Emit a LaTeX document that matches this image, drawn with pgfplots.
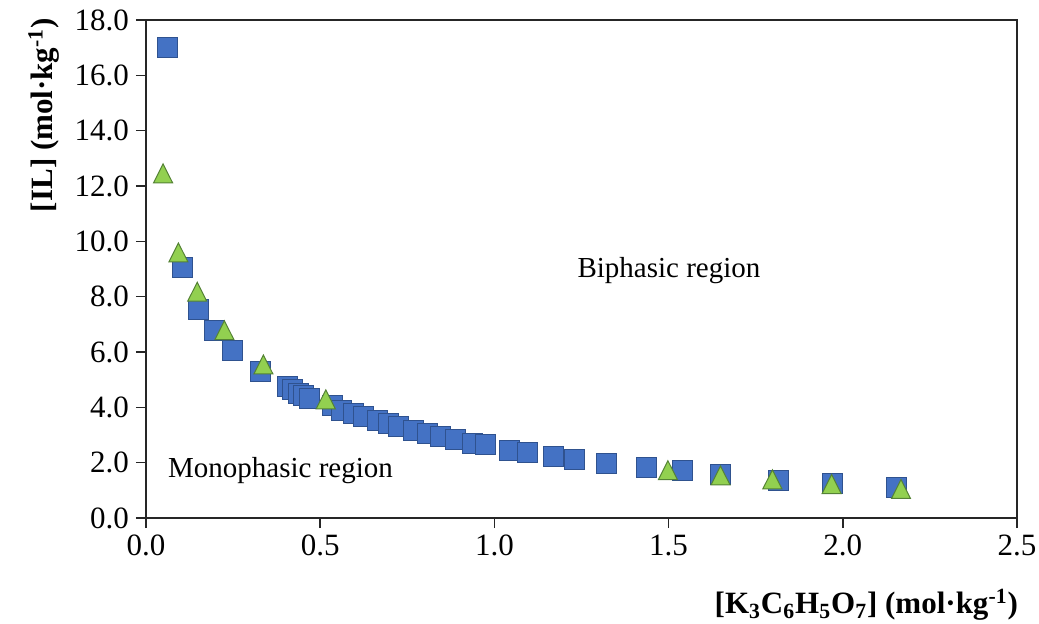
\documentclass[border=0pt]{standalone}
\usepackage{pgfplots}
\pgfplotsset{compat=1.18}
\usepackage{fontspec}
\setmainfont{Liberation Serif}
\definecolor{sqfill}{RGB}{68,114,196}
\definecolor{sqdraw}{RGB}{47,82,143}
\definecolor{trfill}{RGB}{146,208,80}
\definecolor{trdraw}{RGB}{84,130,53}
\begin{document}
\begin{tikzpicture}
\begin{axis}[name=ax, scale only axis, width=435.5pt, height=249pt,
  xmin=0, xmax=2.5, ymin=0, ymax=18,
  xtick={0,0.5,1,1.5,2,2.5}, ytick={0,2,4,6,8,10,12,14,16,18},
  tick align=outside, major tick length=5pt,
  xtick pos=bottom, ytick pos=left,
  axis line style={black!85, line width=0.7pt},
  tick style={black!85, line width=0.7pt},
  xticklabel style={/pgf/number format/.cd, fixed, fixed zerofill, precision=1, assume math mode=true},
  yticklabel style={/pgf/number format/.cd, fixed, fixed zerofill, precision=1, assume math mode=true},
  ticklabel style={font=\fontsize{15.5}{18}\selectfont},
  xlabel={\textbf{[K\textsubscript{3}C\textsubscript{6}H\textsubscript{5}O\textsubscript{7}] (mol·kg\textsuperscript{-1})}},
  ylabel={\textbf{[IL] (mol·kg\textsuperscript{-1})}},
  label style={font=\fontsize{15.5}{18}\selectfont},
  xlabel style={at={(axis description cs:0.827,0)}, anchor=center, yshift=-43.5pt},
  ylabel style={at={(axis description cs:0,0.809)}, anchor=center, yshift=51pt},
  clip=false,
]
\addplot[only marks, mark=square*, mark size=5pt, mark options={fill=sqfill, draw=sqdraw, line width=0.5pt}] coordinates {
(0.063,17.02) (0.106,9.07) (0.152,7.55) (0.198,6.76) (0.247,6.04) (0.330,5.28)
(0.407,4.77) (0.420,4.65) (0.438,4.51) (0.452,4.41) (0.469,4.33)
(0.536,4.05) (0.562,3.88) (0.596,3.78) (0.623,3.66) (0.665,3.54) (0.696,3.42)
(0.726,3.30) (0.768,3.18) (0.807,3.04) (0.845,2.94) (0.888,2.82) (0.937,2.70)
(0.974,2.64) (1.044,2.43) (1.094,2.36) (1.170,2.22) (1.231,2.13) (1.322,1.98)
(1.437,1.81) (1.540,1.70) (1.649,1.59) (1.815,1.37) (1.970,1.23) (2.154,1.10)
};
\addplot[only marks, mark=triangle*, mark size=5.5pt, mark options={fill=trfill, draw=trdraw, line width=0.5pt, yshift=-1.6pt, yscale=1.15}] coordinates {
(0.049,12.46) (0.093,9.60) (0.147,8.18) (0.225,6.79) (0.337,5.55) (0.516,4.29)
(1.498,1.73) (1.649,1.54) (1.798,1.40) (1.968,1.23) (2.167,1.05)
};
\node[font=\fontsize{14.5}{17}\selectfont] at (axis cs:1.501,8.93) {Biphasic region};
\node[font=\fontsize{14.5}{17}\selectfont] at (axis cs:0.386,1.73) {Monophasic region};
\end{axis}
\pgfresetboundingbox
\path ([shift={(-73pt,-52.5pt)}]ax.south west) rectangle ([shift={(11pt,10pt)}]ax.north east);
\end{tikzpicture}
\end{document}
